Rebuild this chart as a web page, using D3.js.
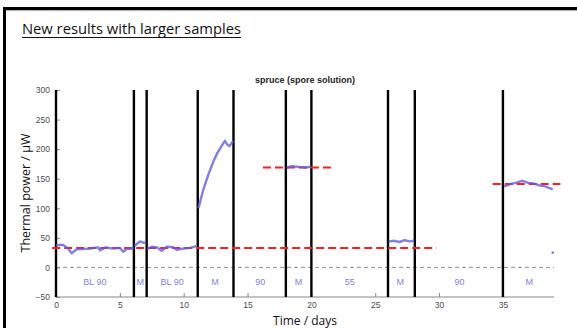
<!DOCTYPE html>
<html>
<head>
<meta charset="utf-8">
<script src="https://cdn.jsdelivr.net/npm/d3@7"></script>
<style>
  body { margin: 0; background: #fff; }
  svg { display: block; }
  .tick text { font-family: "Liberation Sans", Arial, sans-serif; font-size: 8.5px; fill: #4d4d4d; }
</style>
</head>
<body>
<div id="chart"></div>
<script>
// measured power segments [day, µW]
const segBL1 = [[0, 38], [0.57, 38], [0.9, 33], [1.23, 24], [1.62, 30.5], [2.1, 31], [2.66, 32], [3.3, 34], [3.45, 29], [3.9, 34], [4.4, 32], [5.0, 33], [5.27, 26.5], [5.5, 31], [5.93, 32], [6.1, 33]];
const segM1 = [[6.15, 36], [6.32, 39.6], [6.58, 44], [6.84, 41.8], [7.05, 41.8]];
const segBL2 = [[7.15, 31], [7.23, 32], [7.5, 35], [7.9, 34], [8.28, 28], [8.67, 35], [9.2, 34], [9.45, 29.6], [10.0, 32], [10.5, 33], [11.0, 36]];
const segM2 = [[11.15, 100], [11.2, 104], [11.53, 131], [11.9, 155], [12.32, 179], [12.6, 192], [12.84, 201], [13.05, 208], [13.23, 214], [13.4, 208], [13.57, 205], [13.75, 210], [13.88, 214]];
const segM3 = [[18.05, 169], [18.5, 171], [19.0, 170], [19.5, 169], [19.95, 170]];
const segM4 = [[26.05, 44], [26.5, 45], [26.9, 43], [27.3, 46], [27.7, 44], [28.05, 45]];
const segM5 = [[35.1, 137], [35.6, 141], [36.0, 143], [36.5, 146.5], [37.0, 143], [37.37, 142], [37.8, 139], [38.3, 137], [38.9, 132]];
const lonePoint = [[38.9, 25]];

// phase boundaries (days) and phase labels
const boundaries = [0, 6.1, 7.1, 11.1, 13.9, 18, 20, 26, 28.1, 35];
const phaseLabels = ["BL 90", "M", "BL 90", "M", "90", "M", "55", "M", "90", "M"];
const phaseCentres = [3.05, 6.6, 9.1, 12.45, 16, 19, 23, 26.95, 31.6, 37.07];

// red dashed mean levels [from, to, µW]
const means = [[-0.3, 29.8, 33], [16.2, 21.6, 169], [34.2, 39.5, 141]];

const xTicks = [0, 5, 10, 15, 20, 25, 30, 35];
const yTicks = [-50, 0, 50, 100, 150, 200, 250, 300];

const W = 577, H = 328;
const svg = d3.select("#chart").append("svg")
    .attr("width", W).attr("height", H);

// slide frame
svg.append("rect").attr("x", 3).attr("y", 10).attr("width", W - 3).attr("height", 1.2).attr("fill", "#bbb");
svg.append("rect").attr("x", 3).attr("y", 7).attr("width", W - 3).attr("height", 3).attr("fill", "#000");
svg.append("rect").attr("x", 3).attr("y", 7).attr("width", 3).attr("height", H - 7).attr("fill", "#000");

svg.append("text")
    .attr("x", 22).attr("y", 34)
    .style("font-family", "'Open Sans', 'Noto Sans', sans-serif")
    .style("font-size", "14px")
    .attr("fill", "#111")
    .attr("textLength", 219)
    .attr("lengthAdjust", "spacingAndGlyphs")
    .text("New results with larger samples");
svg.append("line").attr("x1", 22).attr("x2", 241).attr("y1", 37.5).attr("y2", 37.5)
    .attr("stroke", "#111").attr("stroke-width", 1);

const x = d3.scaleLinear().domain([0, 39]).range([56, 554]);
const y = d3.scaleLinear().domain([-50, 300]).range([297, 90]);

// axes (ticks pointing inward)
svg.append("g")
    .attr("transform", `translate(0,${y(-50)})`)
    .call(d3.axisBottom(x).tickValues(xTicks).tickSize(-4).tickPadding(5).tickFormat(d3.format("d")))
    .call(g => g.select(".domain").attr("stroke", "#888").attr("d", `M${x(0)},0H${x(39)}`))
    .call(g => g.selectAll(".tick line").attr("stroke", "#888"));

svg.append("g")
    .attr("transform", `translate(${x(0)},0)`)
    .call(d3.axisLeft(y).tickValues(yTicks).tickSize(-4).tickPadding(6))
    .call(g => g.select(".domain").attr("stroke", "#888").attr("d", `M0,${y(300)}V${y(-50)}`))
    .call(g => g.selectAll(".tick line").attr("stroke", "#888"));

// zero line
svg.append("line")
    .attr("x1", x(0)).attr("x2", x(39))
    .attr("y1", y(0)).attr("y2", y(0))
    .attr("stroke", "#777").attr("stroke-width", 0.8)
    .attr("stroke-dasharray", "4,3");

// phase boundaries
svg.selectAll(".bound").data(boundaries).enter().append("line")
    .attr("class", "bound")
    .attr("x1", d => x(d)).attr("x2", d => x(d))
    .attr("y1", y(300)).attr("y2", y(-50))
    .attr("stroke", "#000").attr("stroke-width", 2.4);

// phase labels
svg.selectAll(".phase").data(phaseLabels).enter().append("text")
    .attr("class", "phase")
    .attr("x", (d, i) => x(phaseCentres[i]))
    .attr("y", 285)
    .attr("text-anchor", "middle")
    .style("font-family", "'Liberation Sans', Arial, sans-serif")
    .style("font-size", "9px")
    .attr("fill", "#7f7fe6")
    .text(d => d);

// red mean levels
svg.selectAll(".mean").data(means).enter().append("line")
    .attr("class", "mean")
    .attr("x1", d => x(d[0])).attr("x2", d => x(d[1]))
    .attr("y1", d => y(d[2])).attr("y2", d => y(d[2]))
    .attr("stroke", "#ff1c1c").attr("stroke-width", 2)
    .attr("stroke-dasharray", "8,4");

// power trace
const line = d3.line().x(d => x(d[0])).y(d => y(d[1]));
[segBL1, segM1, segBL2, segM2, segM3, segM4, segM5].forEach(seg => {
    svg.append("path")
        .datum(seg)
        .attr("d", line)
        .attr("fill", "none")
        .attr("stroke", "#5f5fe0")
        .attr("stroke-opacity", 0.8)
        .attr("stroke-width", 2.4)
        .attr("stroke-linejoin", "round");
});
svg.selectAll(".lone").data(lonePoint).enter().append("circle")
    .attr("cx", d => x(d[0])).attr("cy", d => y(d[1]))
    .attr("r", 1.3).attr("fill", "#5f5fe0").attr("fill-opacity", 0.8);

// titles
svg.append("text")
    .attr("x", 305).attr("y", 83)
    .attr("text-anchor", "middle")
    .style("font-family", "'Liberation Sans', Arial, sans-serif")
    .style("font-size", "9px").style("font-weight", "bold")
    .attr("fill", "#222")
    .text("spruce (spore solution)");

svg.append("text")
    .attr("x", 305).attr("y", 325)
    .attr("text-anchor", "middle")
    .style("font-family", "'Open Sans', 'Noto Sans', sans-serif")
    .style("font-size", "12px")
    .attr("fill", "#111")
    .text("Time / days");

svg.append("text")
    .attr("transform", "rotate(-90)")
    .attr("x", -193).attr("y", 30)
    .attr("text-anchor", "middle")
    .style("font-family", "'Open Sans', 'Noto Sans', sans-serif")
    .style("font-size", "12.5px")
    .attr("fill", "#111")
    .text("Thermal power / µW");
</script>
</body>
</html>
